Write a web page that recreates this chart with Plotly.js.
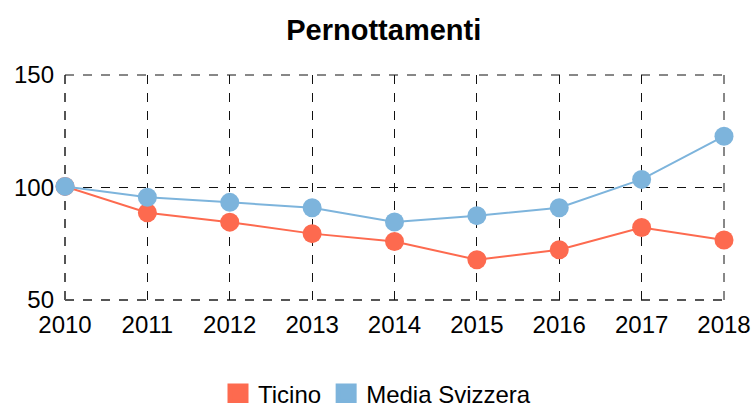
<!DOCTYPE html>
<html><head><meta charset="utf-8">
<script src="https://cdn.plot.ly/plotly-3.0.1.min.js"></script>
<style>html,body{margin:0;padding:0;background:#fff}#chart{width:754px;height:403px}</style>
</head><body><div id="chart"></div>
<script>
const years = [2010, 2011, 2012, 2013, 2014, 2015, 2016, 2017, 2018];
const ticino = [100.5, 88.8, 84.6, 79.5, 76.0, 67.9, 72.3, 82.2, 76.7];
const mediaSvizzera = [100.5, 95.7, 93.4, 91.0, 84.7, 87.5, 91.0, 103.6, 122.8];
const seriesNames = ["Ticino", "Media Svizzera"];
const colors = ["#fd6a4f", "#7db4dc"];
const yTicks = [50, 100, 150];

const font = "Liberation Sans, Arial, sans-serif";
const data = [
  {x: years, y: ticino, name: seriesNames[0], mode: "lines+markers", showlegend: false, cliponaxis: false,
   line: {color: colors[0], width: 2}, marker: {color: colors[0], size: 19}},
  {x: years, y: mediaSvizzera, name: seriesNames[1], mode: "lines+markers", showlegend: false, cliponaxis: false,
   line: {color: colors[1], width: 2}, marker: {color: colors[1], size: 19}},
  {x: [null], y: [null], name: seriesNames[0], mode: "markers", showlegend: true,
   marker: {color: colors[0], size: 16, symbol: "square", line: {color: colors[0], width: 5}}},
  {x: [null], y: [null], name: seriesNames[1], mode: "markers", showlegend: true,
   marker: {color: colors[1], size: 16, symbol: "square", line: {color: colors[1], width: 5}}}
];
const edge = (x0, y0, x1, y1, c, w) => ({type: "line", xref: "paper", yref: "paper", x0, y0, x1, y1,
  line: {color: c, width: w, dash: "dash"}, layer: "below"});
const layout = {
  width: 754, height: 403,
  margin: {l: 65, r: 30, t: 75, b: 103},
  paper_bgcolor: "#fff", plot_bgcolor: "#fff",
  font: {family: font, size: 24, color: "#000"},
  title: {text: "<b>Pernottamenti</b>", font: {family: font, size: 29, color: "#000"},
          x: 0.509, xref: "container", y: 0.925, yanchor: "middle"},
  xaxis: {range: [2010, 2018], tickvals: years, ticktext: years.map(String), tickangle: 0,
          showgrid: true, gridcolor: "#111", griddash: "dash", gridwidth: 1,
          zeroline: false, showline: false, ticks: "", tickfont: {size: 24}, automargin: false,
          ticklabelstandoff: 8},
  yaxis: {range: [50, 150], tickvals: yTicks, ticktext: yTicks.map(String),
          showgrid: true, gridcolor: "#111", griddash: "dash", gridwidth: 1,
          zeroline: false, showline: false, ticks: "", tickfont: {size: 24}, automargin: false,
          ticklabelstandoff: 10},
  shapes: [
    edge(0, 0, 1, 0, "#555", 2),
    edge(0, 0, 0, 1, "#555", 2),
    edge(0, 1, 1, 1, "#111", 1),
    edge(1, 0, 1, 1, "#111", 1)
  ],
  legend: {orientation: "h", x: 0.5, xref: "container", xanchor: "center",
           y: 0.077, yref: "container", yanchor: "top",
           font: {size: 24}, itemwidth: 30},
  showlegend: true
};
Plotly.newPlot("chart", data, layout, {staticPlot: true});
</script></body></html>
